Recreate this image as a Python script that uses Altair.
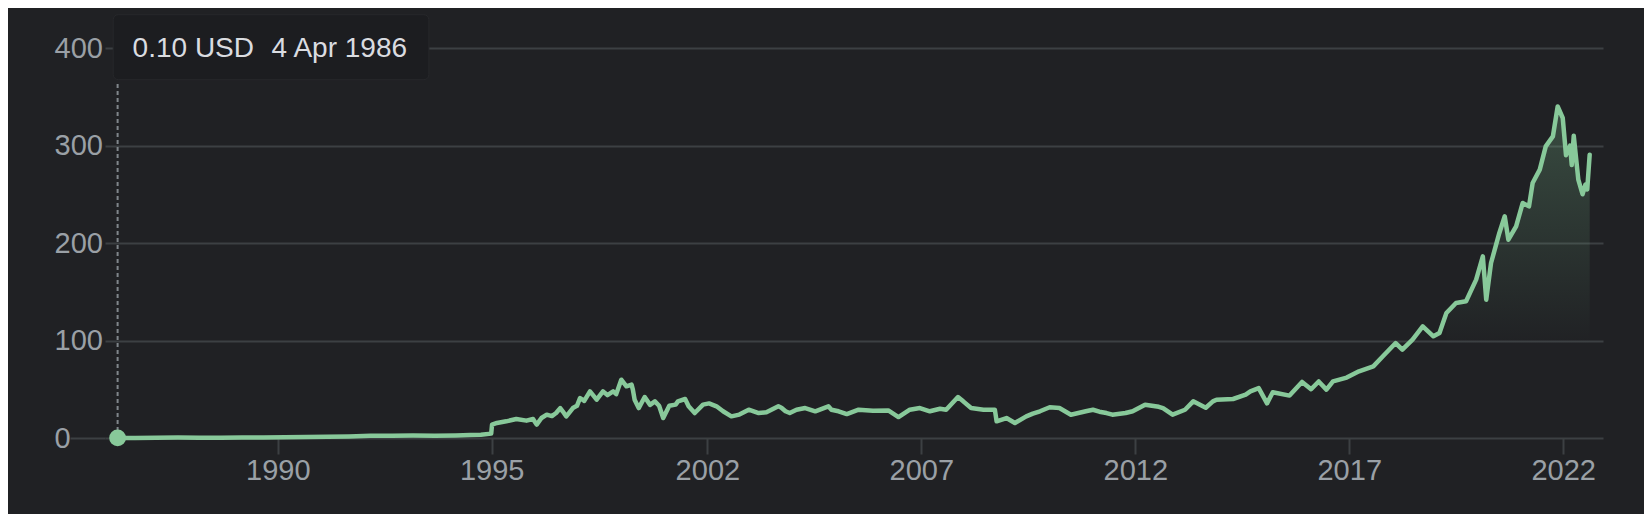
import altair as alt
import pandas as pd

# ---- data (split-adjusted close, USD) ----
dates = [
    "1986-04-04", "1986-09-01", "1987-03-01", "1987-09-01", "1988-03-01", "1988-09-01",
    "1989-03-01", "1989-09-01", "1990-03-01", "1990-09-01", "1991-03-01", "1991-09-01",
    "1992-03-01", "1992-09-01", "1993-03-01", "1993-09-01", "1994-03-01", "1994-07-01",
    "1994-10-01", "1994-12-28",
    "1996-12-20", "1997-01-31", "1997-04-20", "1997-07-15", "1997-10-10", "1997-12-05",
    "1998-01-05", "1998-02-15", "1998-04-01", "1998-05-15", "1998-06-20", "1998-07-25",
    "1998-08-15", "1998-09-15", "1998-11-10", "1998-12-15", "1999-01-10", "1999-02-15",
    "1999-04-05", "1999-05-01", "1999-06-01", "1999-07-25", "1999-09-01", "1999-10-20",
    "1999-11-15", "1999-12-28", "2000-02-10", "2000-03-25", "2000-04-05", "2000-04-20",
    "2000-05-25", "2000-07-15", "2000-08-30", "2000-10-10", "2000-11-15", "2000-12-20",
    "2001-02-10", "2001-04-05", "2001-04-25", "2001-06-25", "2001-07-25", "2001-09-15",
    "2001-11-25", "2002-01-15", "2002-03-20", "2002-05-15", "2002-07-25", "2002-10-01",
    "2002-12-20", "2003-03-15", "2003-05-20", "2003-08-30", "2003-09-25", "2003-10-30",
    "2003-12-05", "2004-02-01", "2004-04-15", "2004-07-10", "2004-10-30", "2004-11-25",
    "2005-01-25", "2005-04-05", "2005-07-15", "2005-11-15", "2006-03-25", "2006-06-20",
    "2006-09-25", "2006-12-20", "2007-03-15", "2007-06-10", "2007-08-01", "2007-11-10",
    "2007-12-25", "2008-03-01", "2008-06-15", "2008-09-20", "2008-10-05", "2008-12-28",
    "2009-03-10", "2009-06-15", "2009-08-10", "2009-10-10", "2010-01-01", "2010-03-25",
    "2010-07-01", "2010-11-05", "2011-01-05", "2011-03-01", "2011-05-01", "2011-06-20",
    "2011-10-10", "2011-12-10", "2012-03-25", "2012-07-20", "2012-08-25", "2012-11-15",
    "2013-03-01", "2013-05-10", "2013-08-25", "2013-10-25", "2013-11-25", "2014-04-15",
    "2014-08-01", "2014-09-10", "2014-11-20", "2015-01-30", "2015-03-20", "2015-08-10",
    "2015-11-25", "2016-02-10", "2016-04-15", "2016-06-20", "2016-08-15", "2016-12-10",
    "2017-03-25", "2017-07-25", "2017-10-15",
    "2018-02-01", "2018-03-30", "2018-06-25", "2018-09-20", "2018-12-20", "2019-02-10",
    "2019-04-10", "2019-07-01", "2019-09-25", "2019-12-20", "2020-02-15", "2020-03-15",
    "2020-04-25", "2020-07-05", "2020-08-20", "2020-09-20", "2020-11-25", "2021-01-20",
    "2021-03-15", "2021-04-15", "2021-06-15", "2021-08-05", "2021-10-05", "2021-11-15",
    "2021-12-28", "2022-01-25", "2022-03-01", "2022-03-15", "2022-04-01", "2022-05-10",
    "2022-06-15", "2022-07-10", "2022-07-25", "2022-08-15",
]
prices = [
    0.10, 0.12, 0.25, 0.40, 0.32, 0.35,
    0.40, 0.55, 0.70, 0.90, 1.3, 1.6,
    2.2, 2.4, 2.5, 2.2, 2.6, 3.0,
    3.4, 4.5,
    13.6, 15.4, 17.1, 19.5, 17.8, 19.5,
    13.7, 20.5, 23.9, 22.5, 25.6, 30.7,
    27.4, 22.2, 30.7, 33.0, 41.0, 38.0,
    47.8, 44.0, 39.3, 47.8, 44.0, 47.8,
    45.0, 59.8, 53.0, 54.7, 49.6, 39.3,
    30.7, 42.0, 34.0, 37.6, 33.0, 20.5,
    33.0, 34.2, 37.6, 40.0, 32.5, 25.6,
    34.2, 35.5, 32.5, 27.4, 22.2, 24.0,
    29.0, 25.6, 26.5, 32.5, 31.0, 27.4,
    25.6, 29.0, 30.7, 27.4, 32.5, 29.0,
    27.4, 24.5, 29.0, 28.0, 28.3, 21.5,
    29.0, 30.7, 27.4, 30.0, 29.0, 42.0,
    37.6, 30.7, 29.0, 29.0, 17.1, 20.5,
    15.4, 22.2, 25.0, 27.4, 31.5, 30.7,
    23.9, 27.4, 29.0, 27.0, 25.6, 23.9,
    25.6, 27.4, 34.2, 32.0, 30.7, 23.9,
    29.0, 37.6, 31.0, 37.6, 39.3, 40.0,
    44.4, 47.8, 51.2, 35.5, 47.0, 43.5,
    57.5, 50.0, 58.0, 49.6, 58.1, 62.0,
    68.4, 73.5, 83.8,
    97.4, 90.6, 100.9, 114.5, 104.3, 107.7,
    128.2, 138.5, 140.2, 162.4, 186.3, 141.9,
    179.5, 210.3, 227.4, 203.4, 217.1, 241.0,
    237.6, 261.5, 275.2, 299.1, 309.4, 340.1,
    328.2, 290.0, 300.0, 280.0, 310.0, 265.0,
    250.0, 260.0, 255.0, 290.6,
]
y_ticks = [0, 100, 200, 300, 400]
x_tick_years = [1990, 1995, 2002, 2007, 2012, 2017, 2022]

hover_date = ["1986-04-04"]
hover_price = [0.10]
hover_price_label = ["0.10 USD"]
hover_date_label = ["4 Apr 1986"]

df = pd.DataFrame({"date": dates, "price": prices})
df_area = df[df["date"] >= "2019-03-01"]
hover = pd.DataFrame({"date": hover_date, "price": hover_price,
                      "plabel": hover_price_label, "dlabel": hover_date_label})

BG = "#202124"
GREEN = "#88c99a"
GRID = "#3c4043"
LABEL = "#9aa0a6"
TIPTEXT = "#dadce0"
FONT = "Liberation Sans"

W, H = 1498, 390

# decimal year of each date
YEAR_EXPR = "time(toDate(datum.date)) / 31557600000 + 1970"

# Google's MAX chart has no points for 1995-1996, so that span collapses to one position
x_scale = alt.Scale(
    domain=[1985.96, 1995.0, 1996.96, 2022.93],
    range=[0, 386.7, 386.7, W],
    nice=False, zero=False,
)
x_axis = alt.Axis(
    values=x_tick_years, format="d", title=None,
    domain=False, grid=False, ticks=True, tickSize=16, tickWidth=2, tickColor=GRID,
    labelColor=LABEL, labelFont=FONT, labelFontSize=29, labelPadding=25,
    labelBaseline="alphabetic", labelFlush=False, labelOverlap=False,
)
y_scale = alt.Scale(domain=[0, 400], nice=False, zero=True)
y_axis = alt.Axis(
    values=y_ticks, title=None, domain=False, grid=True, gridColor=GRID, gridWidth=2,
    ticks=True, tickSize=35, tickWidth=2,
    tickColor={"condition": {"test": "datum.value === 0", "value": GRID}, "value": "transparent"},
    labelColor=LABEL, labelFont=FONT, labelFontSize=29, labelPadding=16,
    labelAlign="left", labelBaseline="middle",
)

X = alt.X("t:Q", scale=x_scale, axis=x_axis)
Y = alt.Y("price:Q", scale=y_scale, axis=y_axis)


def base(data):
    return alt.Chart(data).transform_calculate(t=YEAR_EXPR)


gradient = alt.Gradient(
    gradient="linear", x1=0, x2=0, y1=0, y2=1,
    stops=[alt.GradientStop(color="rgba(129,201,149,0.26)", offset=0),
           alt.GradientStop(color="rgba(129,201,149,0.0)", offset=0.72)],
)

area = base(df_area).mark_area(fill=gradient).encode(x=X, y=Y)
line = base(df).mark_line(color=GREEN, strokeWidth=4.5, strokeJoin="round",
                          strokeCap="round").encode(x=X, y=Y)

guide = base(hover).mark_rule(color="#80868b", strokeWidth=2, strokeDash=[4, 3]).encode(
    x=X, y=Y, y2=alt.value(33.7))
dot = base(hover).mark_circle(color=GREEN, opacity=1, size=283).encode(x=X, y=Y)
box = base(hover).mark_rect(
    fill="#1c1d20", stroke="#27282b", strokeWidth=1, cornerRadius=5,
    xOffset=-4.4, x2Offset=311.3,
).encode(x=X, x2=alt.X2("t:Q"), y=alt.value(-33.3), y2=alt.value(31.7))
ptext = base(hover).mark_text(
    align="left", baseline="alphabetic", dx=15, font=FONT, fontSize=28, color=TIPTEXT
).encode(x=X, y=alt.value(9), text="plabel:N")
dtext = base(hover).mark_text(
    align="left", baseline="alphabetic", dx=154, font=FONT, fontSize=28, color=TIPTEXT
).encode(x=X, y=alt.value(9), text="dlabel:N")

chart = alt.layer(area, line, guide, dot, box, ptext, dtext).properties(
    width=W, height=H, background=BG,
    autosize=alt.AutoSizeParams(type="none"),
    padding={"left": 97, "top": 40, "right": 41, "bottom": 76},
).configure_view(strokeWidth=0)

chart.save("out.html", embed_options={"renderer": "svg", "actions": False})
